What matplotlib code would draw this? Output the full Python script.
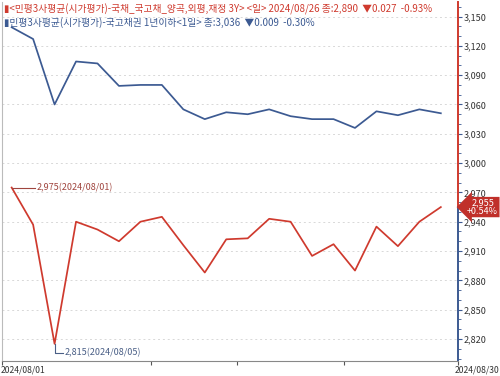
import matplotlib.pyplot as plt
from matplotlib.ticker import MultipleLocator, FuncFormatter
import numpy as np

plt.rcParams['font.family'] = ['Noto Sans CJK KR', 'DejaVu Sans']

# 2024년 8월 영업일 (8/15 휴일 제외)
dates = ['08/01', '08/02', '08/05', '08/06', '08/07', '08/08', '08/09',
         '08/12', '08/13', '08/14', '08/16', '08/19', '08/20', '08/21',
         '08/22', '08/23', '08/26', '08/27', '08/28', '08/29', '08/30']

# 국고채 3Y
red_vals = [2975, 2937, 2815, 2940, 2932, 2920, 2940, 2945, 2916, 2888, 2922,
            2923, 2943, 2940, 2905, 2917, 2890, 2935, 2915, 2940, 2955]
# 국고채권 1년이하
blue_vals = [3139, 3127, 3060, 3104, 3102, 3079, 3080, 3080, 3055, 3045, 3052,
             3050, 3055, 3048, 3045, 3045, 3036, 3053, 3049, 3055, 3051]

red_c = '#cf3a2e'
blue_c = '#3c5a92'
tag_c = '#c0302a'

x = np.arange(len(dates))

fig = plt.figure(figsize=(5.0, 3.76), dpi=100)
ax = fig.add_axes([0.004, 0.04, 0.912, 0.955])

ax.plot(x, blue_vals, color=blue_c, lw=1.25)
ax.plot(x, red_vals, color=red_c, lw=1.25)

ax.set_xlim(-0.45, 20.8)
ax.set_ylim(2797.5, 3165)

# 오른쪽 축
ax.yaxis.tick_right()
ax.yaxis.set_minor_locator(MultipleLocator(10))
ax.set_yticks(np.arange(2820, 3151, 30))
ax.yaxis.set_major_formatter(FuncFormatter(lambda v, p: f'{int(v):,}'))
ax.tick_params(axis='y', which='major', length=3, width=0.8, pad=1,
               labelsize=6.5, labelcolor='#333333', color=blue_c)
ax.tick_params(axis='y', which='minor', length=2, width=0.6, color=blue_c)
ax.grid(axis='y', ls=(0, (2, 3)), color='#d8d8d8', lw=0.7)

# x축
ax.set_xticks([-0.45, 6.5, 10.5, 15.5, 20.8])
ax.set_xticklabels([])
ax.tick_params(axis='x', length=3, width=0.8, color='#555555')
fig.text(0.001, 0.004, '2024/' + dates[0], ha='left', va='bottom',
         fontsize=6.2, color='#333333')
fig.text(0.999, 0.004, '2024/' + dates[-1], ha='right', va='bottom',
         fontsize=6.2, color='#333333')

for s in ['top', 'right']:
    ax.spines[s].set_visible(False)
ax.spines['left'].set_color('#bbbbbb')
ax.spines['bottom'].set_color('#888888')

# 오른쪽 축선: 현재가 위는 빨강, 아래는 파랑
split = (red_vals[-1] - 2797.5) / (3165 - 2797.5)
ax.axvline(20.8, ymin=split, ymax=1, color=red_c, lw=1.4, clip_on=False)
ax.axvline(20.8, ymin=0, ymax=split, color=blue_c, lw=1.4, clip_on=False)

# 현재가 태그
ax.annotate(f'{red_vals[-1]:,}\n+0.54%', xy=(20.8, red_vals[-1]),
            xytext=(21.95, red_vals[-1]), fontsize=6.5, color='white',
            ha='center', va='center', linespacing=0.95,
            bbox=dict(boxstyle='larrow,pad=0.15', fc=tag_c, ec='none'),
            annotation_clip=False)

# 최고/최저 표시
imax = int(np.argmax(red_vals))
imin = int(np.argmin(red_vals))
ax.plot([x[imax], x[imax] + 1.1], [red_vals[imax]] * 2, color='#a0453e', lw=0.8)
ax.text(x[imax] + 1.15, red_vals[imax], f'{red_vals[imax]:,}(2024/{dates[imax]})',
        fontsize=6.5, color='#a0453e', va='center', ha='left')
ax.plot([x[imin], x[imin], x[imin] + 0.4],
        [red_vals[imin], red_vals[imin] - 9, red_vals[imin] - 9],
        color='#4a5f86', lw=0.8)
ax.text(x[imin] + 0.45, red_vals[imin] - 9, f'{red_vals[imin]:,}(2024/{dates[imin]})',
        fontsize=6.5, color='#4a5f86', va='center', ha='left')

# 범례
fig.text(0.008, 0.990,
         '▮<민평3사평균(시가평가)-국채_국고채_양곡,외평,재정 3Y> <일> 2024/08/26 종:2,890  ▼0.027  -0.93%',
         fontsize=7, color=red_c, ha='left', va='top')
fig.text(0.008, 0.955,
         '▮민평3사평균(시가평가)-국고채권 1년이하<1일> 종:3,036  ▼0.009  -0.30%',
         fontsize=7, color=blue_c, ha='left', va='top')

fig.savefig('out.png', dpi=100)
